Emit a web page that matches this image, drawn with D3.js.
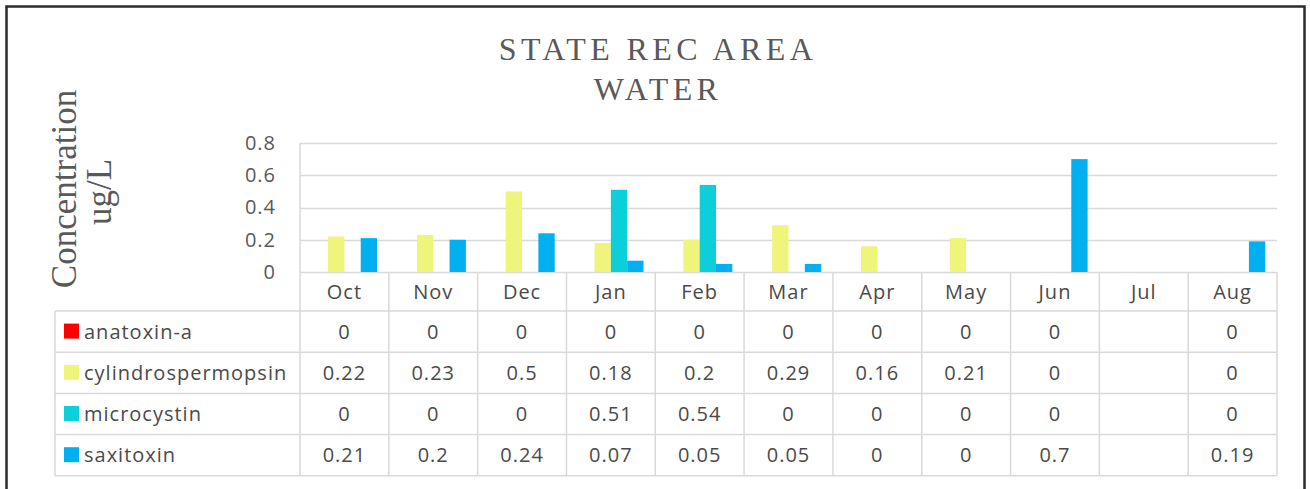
<!DOCTYPE html>
<html>
<head>
<meta charset="utf-8">
<script src="https://cdn.jsdelivr.net/npm/d3@7"></script>
<style>
  body { margin: 0; background: #fff; }
  text { fill: #595959; }
</style>
</head>
<body>
<svg id="drawing_region"></svg>
<script>
const months = ['Oct', 'Nov', 'Dec', 'Jan', 'Feb', 'Mar', 'Apr', 'May', 'Jun', 'Jul', 'Aug'];
const seriesNames = ['anatoxin-a', 'cylindrospermopsin', 'microcystin', 'saxitoxin'];
const seriesColors = ['#ff0000', '#eef57a', '#0ccfd9', '#00b0f0'];
// null = no sample (Jul)
const anatoxin = [0, 0, 0, 0, 0, 0, 0, 0, 0, null, 0];
const cylindrospermopsin = [0.22, 0.23, 0.5, 0.18, 0.2, 0.29, 0.16, 0.21, 0, null, 0];
const microcystin = [0, 0, 0, 0.51, 0.54, 0, 0, 0, 0, null, 0];
const saxitoxin = [0.21, 0.2, 0.24, 0.07, 0.05, 0.05, 0, 0, 0.7, null, 0.19];
const yTicks = [0, 0.2, 0.4, 0.6, 0.8];

const seriesValues = [anatoxin, cylindrospermopsin, microcystin, saxitoxin];

const W = 1310, H = 489;
const plot = { left: 300, right: 1277, top: 143, bottom: 272 };
const tbl = { left: 55, header: 39, rowH: 41.2 };
const gridColor = '#d9d9d9';
const textColor = '#4a4a4a';
const sans = '"Open Sans", sans-serif';
const serif = '"Liberation Serif", "Times New Roman", serif';

const svg = d3.select('#drawing_region')
    .attr('width', W)
    .attr('height', H);

// outer frame
svg.append('rect')
    .attr('x', 6.5).attr('y', 6.5)
    .attr('width', 1298).attr('height', 520)
    .attr('fill', 'none')
    .attr('stroke', '#2b2b2b')
    .attr('stroke-width', 2.5);

// title
const title = svg.append('text')
    .attr('text-anchor', 'middle')
    .attr('font-family', serif)
    .attr('font-size', 32)
    .attr('letter-spacing', 4.4)
    .style('fill', '#595959');
title.append('tspan').attr('x', 658).attr('y', 60).text('STATE REC AREA');
title.append('tspan').attr('x', 658).attr('y', 100).text('WATER');

// y title
const ytitle = svg.append('g')
    .attr('font-family', serif)
    .attr('font-size', 35)
    .attr('text-anchor', 'middle');
ytitle.append('text')
    .attr('transform', 'translate(76,189) rotate(-90)')
    .text('Concentration');
ytitle.append('text')
    .attr('transform', 'translate(111,192) rotate(-90)')
    .text('ug/L');

// scales
const x0 = d3.scaleBand()
    .domain(months)
    .range([plot.left, plot.right])
    .padding(0);

const x1 = d3.scaleBand()
    .domain(seriesNames)
    .range([0, x0.bandwidth()])
    .paddingInner(0)
    .paddingOuter(0.72);

const y = d3.scaleLinear()
    .domain([0, 0.8])
    .range([plot.bottom, plot.top]);

// gridlines
svg.append('g')
    .selectAll('line')
    .data(yTicks)
    .join('line')
    .attr('x1', plot.left).attr('x2', plot.right)
    .attr('y1', d => Math.round(y(d)) + 0.5)
    .attr('y2', d => Math.round(y(d)) + 0.5)
    .attr('stroke', gridColor)
    .attr('stroke-width', 1.5);

// y axis tick labels
const yaxis = d3.axisLeft(y)
    .tickValues(yTicks)
    .tickFormat(d => d === 0 ? '0' : d3.format('.1f')(d))
    .tickSize(0)
    .tickPadding(24);
const yaxisGroup = svg.append('g')
    .attr('transform', `translate(${plot.left},0)`)
    .call(yaxis);
yaxisGroup.select('.domain').remove();
yaxisGroup.selectAll('text')
    .attr('font-family', sans)
    .attr('font-size', 20)
    .attr('letter-spacing', 1)
    .attr('fill', textColor);

// bars
const rows = seriesNames.map((name, i) => ({ name, color: seriesColors[i], values: seriesValues[i] }));
svg.append('g')
    .selectAll('g')
    .data(rows)
    .join('g')
    .attr('fill', d => d.color)
    .selectAll('rect')
    .data(d => d.values.map((v, j) => ({ name: d.name, month: months[j], value: v })).filter(e => e.value))
    .join('rect')
    .attr('x', d => x0(d.month) + x1(d.name))
    .attr('y', d => y(d.value))
    .attr('width', x1.bandwidth())
    .attr('height', d => y(0) - y(d.value));

// data table
const tableTop = plot.bottom + tbl.header;
const tableBottom = tableTop + tbl.rowH * rows.length;
const lines = svg.append('g')
    .attr('stroke', gridColor)
    .attr('stroke-width', 1.5);

// left boundary of plot + column separators
lines.selectAll('.vcol')
    .data(months.map(m => x0(m)).concat([plot.right]))
    .join('line')
    .attr('x1', d => d).attr('x2', d => d)
    .attr('y1', (d, i) => i === 0 ? plot.top : plot.bottom)
    .attr('y2', tableBottom);

lines.append('line')
    .attr('x1', tbl.left).attr('x2', tbl.left)
    .attr('y1', tableTop).attr('y2', tableBottom);

lines.selectAll('.hrow')
    .data(d3.range(rows.length + 1))
    .join('line')
    .attr('x1', tbl.left).attr('x2', plot.right)
    .attr('y1', i => tableTop + i * tbl.rowH)
    .attr('y2', i => tableTop + i * tbl.rowH);

// month labels
svg.append('g')
    .selectAll('text')
    .data(months)
    .join('text')
    .attr('x', d => x0(d) + x0.bandwidth() / 2)
    .attr('y', plot.bottom + tbl.header / 2)
    .attr('dy', '0.35em')
    .attr('text-anchor', 'middle')
    .attr('font-family', sans)
    .attr('font-size', 20)
    .attr('letter-spacing', 1)
    .style('fill', textColor)
    .text(d => d);

// table rows
const rowG = svg.append('g')
    .selectAll('g')
    .data(rows)
    .join('g')
    .attr('transform', (d, i) => `translate(0,${tableTop + i * tbl.rowH + tbl.rowH / 2})`);

rowG.append('rect')
    .attr('x', 64).attr('y', -8)
    .attr('width', 15).attr('height', 15)
    .attr('fill', d => d.color);

rowG.append('text')
    .attr('x', 84)
    .attr('dy', '0.35em')
    .attr('font-family', sans)
    .attr('font-size', 20)
    .attr('letter-spacing', 1)
    .style('fill', textColor)
    .text(d => d.name);

rowG.selectAll('.val')
    .data(d => d.values.map((v, j) => ({ month: months[j], value: v })).filter(e => e.value !== null))
    .join('text')
    .attr('x', d => x0(d.month) + x0.bandwidth() / 2)
    .attr('dy', '0.35em')
    .attr('text-anchor', 'middle')
    .attr('font-family', sans)
    .attr('font-size', 20)
    .attr('letter-spacing', 1)
    .style('fill', textColor)
    .text(d => String(d.value));
</script>
</body>
</html>
